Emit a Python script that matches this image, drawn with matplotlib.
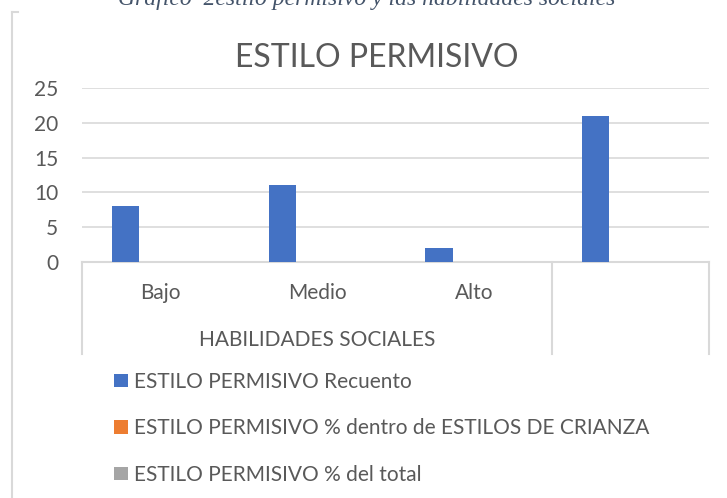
import numpy as np
import matplotlib.pyplot as plt
from matplotlib.lines import Line2D

# Data
categories = ['Bajo', 'Medio', 'Alto', '']
group_label = 'HABILIDADES SOCIALES'
series_names = ['ESTILO PERMISIVO Recuento',
                'ESTILO PERMISIVO % dentro de ESTILOS DE CRIANZA',
                'ESTILO PERMISIVO % del total']
recuento = [8, 11, 2, 21]
pct_estilos = [0, 0, 0, 0]
pct_total = [0, 0, 0, 0]
y_ticks = [0, 5, 10, 15, 20, 25]

colors = ['#4472C4', '#ED7D31', '#A5A5A5']
txt = '#595959'
grid = '#D9D9D9'
FONT = ['Lato', 'DejaVu Sans']

W, H = 727, 498
fig = plt.figure(figsize=(W / 100, H / 100), dpi=100)


def fx(px):
    return px / W


def fy(py):
    return 1 - py / H


# plot area in pixels: x 82..709, y 88..262
ax = fig.add_axes([fx(82), fy(262), (709 - 82) / W, (262 - 88) / H])

x = np.arange(len(categories))
width = 0.175
all_series = [recuento, pct_estilos, pct_total]
for i, vals in enumerate(all_series):
    ax.bar(x - 0.2225 + i * width, vals, width, color=colors[i],
           label=series_names[i], linewidth=0, zorder=3)

ax.set_xlim(-0.5, len(categories) - 0.5)
ax.set_ylim(0, 25)
ax.set_yticks(y_ticks)
ax.set_yticklabels([str(t) for t in y_ticks], fontsize=15, color=txt, family=FONT)
ax.tick_params(axis='y', length=0, pad=17)
ax.set_xticks([])
ax.grid(axis='y', color=grid, linewidth=1.2, zorder=0)
for s in ['top', 'right', 'left']:
    ax.spines[s].set_visible(False)
ax.spines['bottom'].set_color(grid)
ax.spines['bottom'].set_linewidth(1.5)

# multi-level category axis
tr = ax.get_xaxis_transform()
for i, c in enumerate(categories):
    ax.text(i, -0.18, c, transform=tr, ha='center', va='center',
            fontsize=15, color=txt, family=FONT)
ax.text(1, -0.45, group_label, transform=tr, ha='center', va='center',
        fontsize=15, color=txt, family=FONT)
for xv in [-0.5, 2.5, 3.5]:
    ax.plot([xv, xv], [0, -0.529], transform=tr, color=grid, lw=1.5,
            clip_on=False)

# title
fig.text(fx(377), fy(58), 'ESTILO PERMISIVO', ha='center', va='center',
         fontsize=23, color=txt, family=FONT)

# caption cut at the top of the picture
fig.text(fx(367), fy(5), 'Gráfico  2estilo permisivo y las habilidades sociales',
         ha='center', va='baseline', fontsize=17, fontstyle='italic',
         family='Liberation Serif', color='#44546A')

# chart border (left part)
fig.add_artist(Line2D([fx(11.5), fx(11.5)], [fy(12), fy(498)], color=grid, lw=1.5))
fig.add_artist(Line2D([fx(11.5), fx(18)], [fy(12), fy(12)], color=grid, lw=1.5))

# legend
leg = fig.legend(loc='upper left', bbox_to_anchor=(fx(114), fy(372)),
                 frameon=False, handlelength=0.67, handleheight=0.63,
                 handletextpad=0.3, labelspacing=1.27, borderpad=0,
                 borderaxespad=0, prop={'family': FONT, 'size': 15})
for t in leg.get_texts():
    t.set_color(txt)

fig.savefig('out.png', dpi=100)
